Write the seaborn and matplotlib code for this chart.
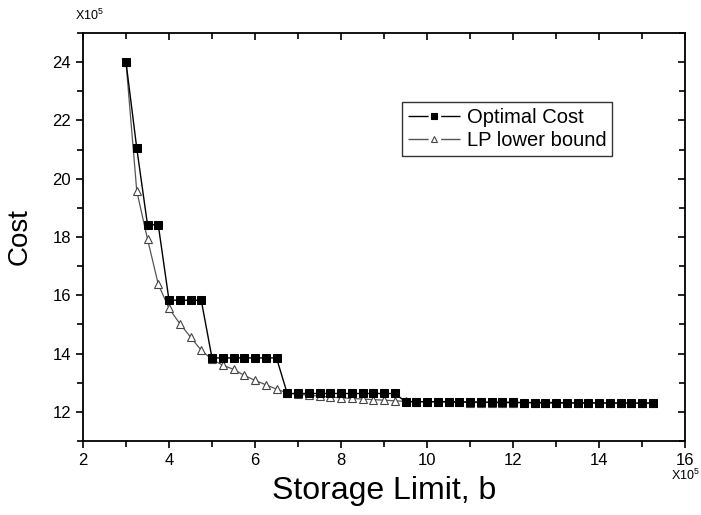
import numpy as np
import pandas as pd
import matplotlib
matplotlib.use("Agg")
import matplotlib.pyplot as plt
from matplotlib.lines import Line2D
from matplotlib.legend_handler import HandlerTuple
import seaborn as sns

# storage limit (x 10^5), step 0.25
storage = [3.0, 3.25, 3.5, 3.75, 4.0, 4.25, 4.5, 4.75, 5.0, 5.25,
           5.5, 5.75, 6.0, 6.25, 6.5, 6.75, 7.0, 7.25, 7.5, 7.75,
           8.0, 8.25, 8.5, 8.75, 9.0, 9.25, 9.5, 9.75, 10.0, 10.25,
           10.5, 10.75, 11.0, 11.25, 11.5, 11.75, 12.0, 12.25, 12.5, 12.75,
           13.0, 13.25, 13.5, 13.75, 14.0, 14.25, 14.5, 14.75, 15.0, 15.25]

# cost (x 10^5)
optimal_cost = [24.0, 21.05, 18.42, 18.42, 15.83, 15.83, 15.83, 15.83, 13.85, 13.85,
                13.85, 13.85, 13.85, 13.85, 13.85, 12.63, 12.63, 12.63, 12.63, 12.63,
                12.63, 12.63, 12.63, 12.63, 12.63, 12.63, 12.35, 12.35, 12.35, 12.35,
                12.35, 12.34, 12.34, 12.34, 12.33, 12.33, 12.33, 12.32, 12.32, 12.32,
                12.32, 12.31, 12.31, 12.31, 12.31, 12.30, 12.30, 12.30, 12.30, 12.30]

lp_lower_bound = [24.0, 19.58, 17.93, 16.38, 15.55, 15.03, 14.57, 14.11, 13.80, 13.60,
                  13.46, 13.25, 13.08, 12.93, 12.78, 12.65, 12.60, 12.57, 12.54, 12.51,
                  12.48, 12.46, 12.44, 12.42, 12.40, 12.38, 12.36, 12.35, 12.34, 12.34,
                  12.33, 12.33, 12.32, 12.32, 12.32, 12.31, 12.31, 12.31, 12.31, 12.30,
                  12.30, 12.30, 12.30, 12.30, 12.30, 12.30, 12.30, 12.30, 12.30, 12.30]

df = pd.DataFrame({"Storage": storage, "Optimal": optimal_cost, "LP": lp_lower_bound})

sns.set_style("ticks")
plt.rcParams["font.family"] = ["Liberation Sans", "DejaVu Sans"]
plt.rcParams["mathtext.default"] = "regular"
plt.rcParams["text.color"] = "black"
plt.rcParams["axes.labelcolor"] = "black"
plt.rcParams["xtick.color"] = "black"
plt.rcParams["ytick.color"] = "black"

fig = plt.figure(figsize=(7.01, 5.15), dpi=100)
ax = fig.add_axes([0.1184, 0.1437, 0.8588, 0.7922])

lp_style = dict(color="#555555", lw=0.9, marker="^", markersize=6,
                markerfacecolor="white", markeredgecolor="#444444",
                markeredgewidth=0.8)
opt_style = dict(color="black", lw=1.0, marker="s", markersize=5.2,
                 markerfacecolor="black", markeredgecolor="black")

sns.lineplot(data=df, x="Storage", y="LP", ax=ax, legend=False, **lp_style)
sns.lineplot(data=df, x="Storage", y="Optimal", ax=ax, legend=False, **opt_style)

ax.set_xlim(2, 16)
ax.set_ylim(11, 25)
ax.set_xticks(np.arange(2, 17, 2))
ax.set_xticks(np.arange(3, 16, 2), minor=True)
ax.set_yticks(np.arange(12, 25, 2))
ax.set_yticks(np.arange(11, 26, 2), minor=True)
ax.tick_params(axis="both", which="both", labelsize=12, width=1.2,
               color="black", labelcolor="black", direction="out")
ax.tick_params(which="major", length=5)
ax.tick_params(which="minor", length=4)
ax.tick_params(top=True, right=True, which="both")

# top / right ticks point inward
for tick in ax.xaxis.get_major_ticks() + ax.xaxis.get_minor_ticks():
    tick.tick2line.set_marker(3)
for tick in ax.yaxis.get_major_ticks() + ax.yaxis.get_minor_ticks():
    tick.tick2line.set_marker(0)

for s in ax.spines.values():
    s.set_linewidth(1.3)
    s.set_color("black")

ax.set_xlabel("Storage Limit, b", fontsize=23, labelpad=6)
ax.set_ylabel("Cost", fontsize=20, labelpad=14)

fig.text(0.107, 0.955, "X10$^5$", fontsize=9, ha="left", va="bottom")
fig.text(0.999, 0.091, "X10$^5$", fontsize=9, ha="right", va="top")

# legend handles: line with a gap around a small marker
def legend_handle(color, lw, marker, face, edge):
    seg = Line2D([], [], color=color, lw=lw, linestyle=(0, (14.5, 9, 14.5)))
    mk = Line2D([], [], linestyle="none", marker=marker, markersize=4,
                markerfacecolor=face, markeredgecolor=edge, markeredgewidth=0.8)
    return (seg, mk)

handles = [legend_handle("black", 1.0, "s", "black", "black"),
           legend_handle("#555555", 1.0, "^", "white", "#444444")]
labels = ["Optimal Cost", "LP lower bound"]
leg = ax.legend(handles, labels, handler_map={tuple: HandlerTuple(ndivide=1, pad=0)},
                loc="upper right", bbox_to_anchor=(0.879, 0.831), borderaxespad=0,
                fontsize=14.5, frameon=True, fancybox=False, edgecolor="black",
                handlelength=2.6, handletextpad=0.3, labelspacing=0.2,
                borderpad=0.3)
leg.get_frame().set_linewidth(1.0)

fig.savefig("out.png", dpi=100)
